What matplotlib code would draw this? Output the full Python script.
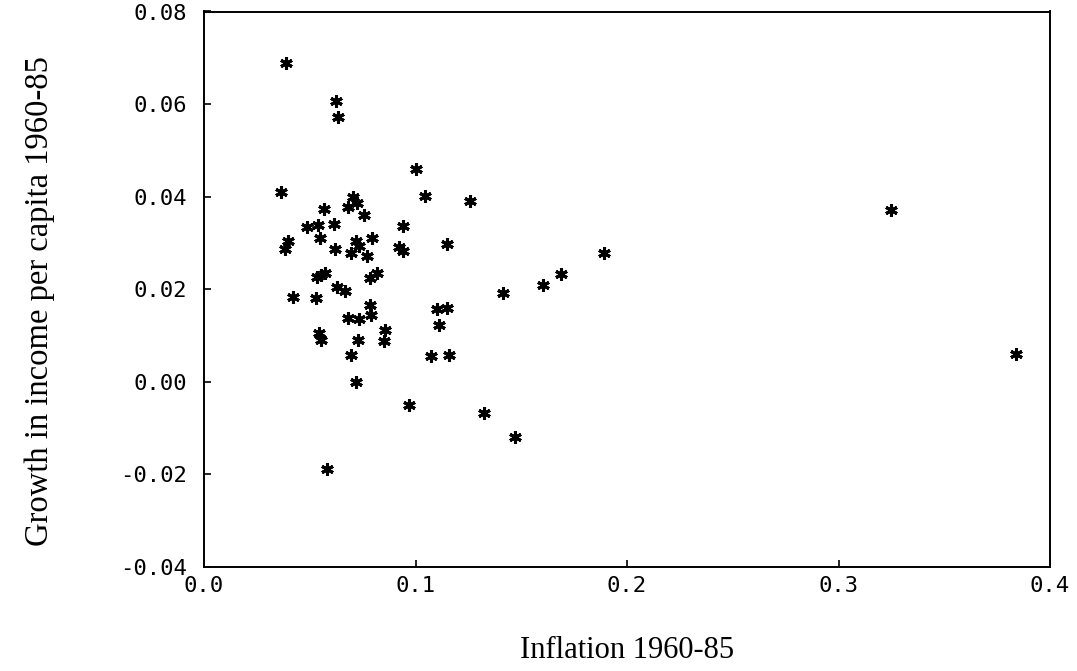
import matplotlib
matplotlib.use("Agg")
import matplotlib.pyplot as plt

# Inflation 1960-85 (x) and growth in income per capita 1960-85 (y)
inflation = [0.0388, 0.0623, 0.0635, 0.1000, 0.1043, 0.0365, 0.1259, 0.0706,
             0.0722, 0.0679, 0.0567, 0.0757, 0.0939, 0.0489, 0.0540, 0.0616,
             0.0397, 0.0548, 0.0719, 0.0794, 0.0384, 0.0735, 0.0619, 0.0694,
             0.0769, 0.0924, 0.0941, 0.1147, 0.1891, 0.3248, 0.0534, 0.0553,
             0.0574, 0.0785, 0.0820, 0.0631, 0.0667, 0.1689, 0.1603, 0.1412,
             0.0422, 0.0528, 0.0785, 0.0682, 0.0733, 0.0791, 0.1103, 0.1150,
             0.1111, 0.0545, 0.0552, 0.0727, 0.0854, 0.0851, 0.0696, 0.1073,
             0.1158, 0.3839, 0.0719, 0.0969, 0.1324, 0.1472, 0.0580]
growth = [0.0689, 0.0606, 0.0571, 0.0460, 0.0401, 0.0409, 0.0390, 0.0398,
          0.0386, 0.0378, 0.0373, 0.0360, 0.0337, 0.0335, 0.0338, 0.0341,
          0.0304, 0.0310, 0.0305, 0.0311, 0.0286, 0.0293, 0.0287, 0.0279,
          0.0272, 0.0290, 0.0283, 0.0297, 0.0277, 0.0371, 0.0226, 0.0230,
          0.0234, 0.0224, 0.0234, 0.0204, 0.0195, 0.0233, 0.0209, 0.0192,
          0.0182, 0.0181, 0.0166, 0.0138, 0.0135, 0.0144, 0.0156, 0.0160,
          0.0123, 0.0106, 0.0089, 0.0091, 0.0112, 0.0088, 0.0057, 0.0055,
          0.0057, 0.0059, 0.0000, -0.0051, -0.0067, -0.0119, -0.0189]

x_ticks = [0.0, 0.1, 0.2, 0.3, 0.4]
x_tick_labels = ["0.0", "0.1", "0.2", "0.3", "0.4"]
y_ticks = [-0.04, -0.02, 0.00, 0.02, 0.04, 0.06, 0.08]
y_tick_labels = ["-0.04", "-0.02", "0.00", "0.02", "0.04", "0.06", "0.08"]

x_label = "Inflation 1960-85"
y_label = "Growth in income per capita 1960-85"

W, H = 1077, 671
fig = plt.figure(figsize=(W / 100, H / 100), dpi=100)
left, right, top, bottom = 204, 1050, 11.5, 566.7
ax = fig.add_axes([left / W, 1 - bottom / H, (right - left) / W, (bottom - top) / H])

ax.plot(inflation, growth, linestyle="none", marker=(6, 2, 0), markersize=9,
        markeredgewidth=2.2, color="black")

ax.set_xlim(0.0, 0.4)
ax.set_ylim(-0.04, 0.08)
ax.set_xticks(x_ticks)
ax.set_xticklabels(x_tick_labels)
ax.set_yticks(y_ticks)
ax.set_yticklabels(y_tick_labels)

for sp in ax.spines.values():
    sp.set_linewidth(1.4)
    sp.set_color("black")

mono = "DejaVu Sans Mono"
ax.tick_params(axis="both", direction="in", length=5, width=1.2, colors="black")
ax.tick_params(axis="y", pad=12)
ax.tick_params(axis="x", pad=7)
for lab in ax.get_xticklabels() + ax.get_yticklabels():
    lab.set_fontfamily(mono)
    lab.set_fontsize(16)

fig.text(627 / W, 1 - 650 / H, x_label, ha="center", va="center",
         fontsize=22, family="Liberation Serif")
fig.text(40 / W, 1 - 301 / H, y_label, ha="center", va="center", rotation=90,
         fontsize=23.5, family="Liberation Serif")

fig.savefig("out.png", dpi=100, facecolor="white")
